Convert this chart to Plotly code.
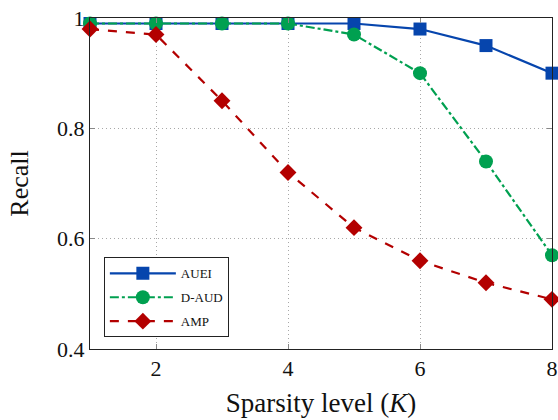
import plotly.graph_objects as go

K = [1, 2, 3, 4, 5, 6, 7, 8]
auei = [0.99, 0.99, 0.99, 0.99, 0.99, 0.98, 0.95, 0.90]
daud = [0.99, 0.99, 0.99, 0.99, 0.97, 0.90, 0.74, 0.57]
amp = [0.98, 0.97, 0.85, 0.72, 0.62, 0.56, 0.52, 0.49]

blue = "#0645ad"
green = "#00a050"
red = "#b30000"

fig = go.Figure()
fig.add_trace(go.Scatter(x=K, y=auei, name="AUEI", mode="lines+markers", legendgroup="a",
                         line=dict(color=blue, width=2.2, dash="solid"),
                         marker=dict(symbol="square", size=13, color=blue), cliponaxis=False))
fig.add_trace(go.Scatter(x=K, y=daud, name="D-AUD", mode="lines+markers", legendgroup="b",
                         line=dict(color=green, width=2.2, dash="dashdot"),
                         marker=dict(symbol="circle", size=14, color=green), cliponaxis=False))
fig.add_trace(go.Scatter(x=K, y=amp, name="AMP", mode="lines+markers", legendgroup="c",
                         line=dict(color=red, width=2.2, dash="dash"),
                         marker=dict(symbol="diamond", size=13, color=red), cliponaxis=False))

font = "Liberation Serif, DejaVu Serif, serif"
axis_common = dict(showline=True, linecolor="#222", linewidth=1, mirror="ticks",
                   ticks="inside", ticklen=5, tickcolor="#888", automargin=False,
                   showgrid=True, gridcolor="#a8a8a8", griddash="1px,3px", gridwidth=1,
                   zeroline=False, tickfont=dict(family=font, size=22, color="#111"))

fig.update_layout(
    width=558, height=420,
    margin=dict(l=90, r=6, t=18, b=71),
    plot_bgcolor="white", paper_bgcolor="white",
    font=dict(family=font, color="#111"),
    xaxis=dict(range=[1, 8], tickvals=[2, 4, 6, 8],
               title=dict(text="Sparsity level (<i>K</i>)", font=dict(size=27), standoff=12),
               **axis_common),
    yaxis=dict(range=[0.4, 1.0], tickvals=[0.4, 0.6, 0.8, 1.0], ticktext=["0.4", "0.6", "0.8", "1"],
               title=dict(text="Recall", font=dict(size=26), standoff=20),
               **axis_common),
    legend=dict(x=0.03, y=0.035, xanchor="left", yanchor="bottom",
                bgcolor="white", bordercolor="#222", borderwidth=1,
                font=dict(family=font, size=13), itemwidth=66, tracegroupgap=4),
    showlegend=True,
)

fig.write_html("out.html")
